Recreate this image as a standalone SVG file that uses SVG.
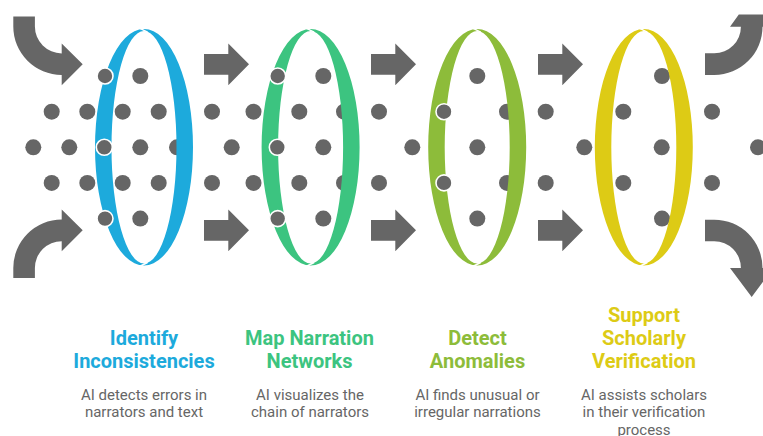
<svg xmlns="http://www.w3.org/2000/svg" xmlns:xlink="http://www.w3.org/1999/xlink" width="763" height="436" viewBox="0 0 763 436">
<style>
.dot{fill:#666666}
.fdot{fill:#666666;stroke:#ffffff;stroke-width:1.6}
.arr{fill:#666666}
.cut{fill:none;stroke:#ffffff;stroke-width:1.4}
.t{font-family:Roboto,"Liberation Sans",Arial,sans-serif;font-weight:700;font-size:20px;text-anchor:middle}
.d{font-family:Roboto,"Liberation Sans",Arial,sans-serif;font-size:15px;fill:#666666;text-anchor:middle}
.blue{fill:#1DAADC}
.green{fill:#3CC480}
.olive{fill:#8DBC3A}
.yellow{fill:#DDCB15}
</style>
<defs>
<path id="ring" fill-rule="evenodd" d="M-49,0A49,118.3 0 1 0 49,0A49,118.3 0 1 0 -49,0ZM-32.5,0A32.5,116.3 0 1 0 32.5,0A32.5,116.3 0 1 0 -32.5,0Z"/>
<path id="ringcut" d="M-4.5,-119.2L3.5,-115.2M-4.5,119.2L3.5,115.2"/>
<path id="arrow" d="M0,-10.4H24.3V-20.9L45,0L24.3,20.9V10.4H0Z"/>
</defs>

<g id="dots">
<circle class="dot" cx="140.3" cy="76" r="8"/>
<circle class="dot" cx="140.3" cy="218.6" r="8"/>
<circle class="dot" cx="51.7" cy="111.7" r="8"/>
<circle class="dot" cx="87.3" cy="111.7" r="8"/>
<circle class="dot" cx="122.7" cy="111.7" r="8"/>
<circle class="dot" cx="158.7" cy="111.7" r="8"/>
<circle class="dot" cx="51.7" cy="182.9" r="8"/>
<circle class="dot" cx="87.3" cy="182.9" r="8"/>
<circle class="dot" cx="122.7" cy="182.9" r="8"/>
<circle class="dot" cx="158.7" cy="182.9" r="8"/>
<circle class="dot" cx="33.3" cy="147.3" r="8"/>
<circle class="dot" cx="69.3" cy="147.3" r="8"/>
<circle class="dot" cx="140.3" cy="147.3" r="8"/>
<circle class="dot" cx="177" cy="147.3" r="8"/>
<circle class="dot" cx="212" cy="111.7" r="8"/>
<circle class="dot" cx="253.5" cy="111.7" r="8"/>
<circle class="dot" cx="212" cy="182.9" r="8"/>
<circle class="dot" cx="253.5" cy="182.9" r="8"/>
<circle class="dot" cx="231.7" cy="147.3" r="8"/>
<circle class="dot" cx="323.3" cy="76" r="8"/>
<circle class="dot" cx="323.3" cy="218.6" r="8"/>
<circle class="dot" cx="299.3" cy="111.7" r="8"/>
<circle class="dot" cx="344" cy="111.7" r="8"/>
<circle class="dot" cx="299.3" cy="182.9" r="8"/>
<circle class="dot" cx="344" cy="182.9" r="8"/>
<circle class="dot" cx="323.3" cy="147.3" r="8"/>
<circle class="dot" cx="379" cy="111.7" r="8"/>
<circle class="dot" cx="379" cy="182.9" r="8"/>
<circle class="dot" cx="412.3" cy="147.3" r="8"/>
<circle class="dot" cx="477.3" cy="76" r="8"/>
<circle class="dot" cx="477.3" cy="218.6" r="8"/>
<circle class="dot" cx="507" cy="111.7" r="8"/>
<circle class="dot" cx="507" cy="182.9" r="8"/>
<circle class="dot" cx="477.3" cy="147.3" r="8"/>
<circle class="dot" cx="545.7" cy="111.7" r="8"/>
<circle class="dot" cx="545.7" cy="182.9" r="8"/>
<circle class="dot" cx="584.3" cy="147.3" r="8"/>
<circle class="dot" cx="662" cy="76" r="8"/>
<circle class="dot" cx="662" cy="218.6" r="8"/>
<circle class="dot" cx="623.3" cy="111.7" r="8"/>
<circle class="dot" cx="623.3" cy="182.9" r="8"/>
<circle class="dot" cx="661.7" cy="147.3" r="8"/>
<circle class="dot" cx="712" cy="111.7" r="8"/>
<circle class="dot" cx="712" cy="182.9" r="8"/>
<circle class="dot" cx="758" cy="147.3" r="8"/>
</g>

<g id="connectors">
<path class="arr" d="M13.3,16.5H34.9V26.6A26.8,26.8 0 0 0 61.7,53.4V43.4L82.7,64.3L61.7,85.2V75A48.4,48.4 0 0 1 13.3,26.6Z"/>
<path class="arr" d="M13.3,278.1H34.9V268A26.8,26.8 0 0 1 61.7,241.2V251.2L82.7,230.3L61.7,209.4V219.6A48.4,48.4 0 0 0 13.3,268Z"/>
<use class="arr" href="#arrow" xlink:href="#arrow" x="204" y="64.3"/>
<use class="arr" href="#arrow" xlink:href="#arrow" x="204" y="230.3"/>
<use class="arr" href="#arrow" xlink:href="#arrow" x="371" y="64.3"/>
<use class="arr" href="#arrow" xlink:href="#arrow" x="371" y="230.3"/>
<use class="arr" href="#arrow" xlink:href="#arrow" x="538" y="64.3"/>
<use class="arr" href="#arrow" xlink:href="#arrow" x="538" y="230.3"/>
<path class="arr" d="M705,53.3H714.3A26.6,26.6 0 0 0 740.9,26.7H730L738.8,14.5H765V26.7H762.5A48.2,48.2 0 0 1 714.3,74.9H705Z"/>
<path class="arr" d="M705,241.3H714.3A26.6,26.6 0 0 1 740.9,267.9H730L751.7,297L773.4,267.9H762.5A48.2,48.2 0 0 0 714.3,219.7H705Z"/>
</g>

<g id="stage1">
<use class="blue" href="#ring" xlink:href="#ring" x="144" y="147.3"/>
<use class="cut" href="#ringcut" xlink:href="#ringcut" x="144" y="147.3"/>
<circle class="fdot" cx="105" cy="76" r="8"/>
<circle class="fdot" cx="104.3" cy="147.3" r="8"/>
<circle class="fdot" cx="105" cy="218.6" r="8"/>
<text class="t blue" x="144" y="345">Identify</text>
<text class="t blue" x="144" y="368.3">Inconsistencies</text>
<text class="d" x="144" y="400">AI detects errors in</text>
<text class="d" x="144" y="417.3">narrators and text</text>
</g>

<g id="stage2">
<use class="green" href="#ring" xlink:href="#ring" x="310.6" y="147.3"/>
<use class="cut" href="#ringcut" xlink:href="#ringcut" x="310.6" y="147.3"/>
<circle class="fdot" cx="277.7" cy="76" r="8"/>
<circle class="fdot" cx="277.3" cy="147.3" r="8"/>
<circle class="fdot" cx="277.7" cy="218.6" r="8"/>
<text class="t green" x="309.5" y="345">Map Narration</text>
<text class="t green" x="309.5" y="368.3">Networks</text>
<text class="d" x="310" y="400">AI visualizes the</text>
<text class="d" x="310" y="417.3">chain of narrators</text>
</g>

<g id="stage3">
<use class="olive" href="#ring" xlink:href="#ring" x="477.2" y="147.3"/>
<use class="cut" href="#ringcut" xlink:href="#ringcut" x="477.2" y="147.3"/>
<circle class="fdot" cx="444" cy="111.7" r="8"/>
<circle class="fdot" cx="444" cy="182.9" r="8"/>
<text class="t olive" x="477.5" y="345">Detect</text>
<text class="t olive" x="477.5" y="368.3">Anomalies</text>
<text class="d" x="477.5" y="400">AI finds unusual or</text>
<text class="d" x="477.5" y="417.3">irregular narrations</text>
</g>

<g id="stage4">
<use class="yellow" href="#ring" xlink:href="#ring" x="643.8" y="147.3"/>
<use class="cut" href="#ringcut" xlink:href="#ringcut" x="643.8" y="147.3"/>
<text class="t yellow" x="644" y="321.7">Support</text>
<text class="t yellow" x="644" y="345">Scholarly</text>
<text class="t yellow" x="644" y="368.3">Verification</text>
<text class="d" x="644" y="400">AI assists scholars</text>
<text class="d" x="644" y="417.3">in their verification</text>
<text class="d" x="644" y="434.6">process</text>
</g>
</svg>
